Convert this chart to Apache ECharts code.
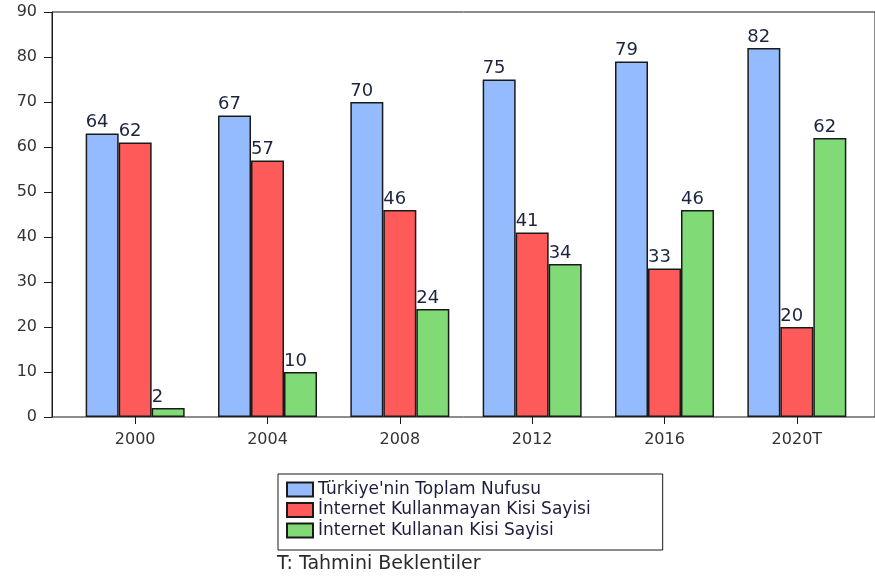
<!DOCTYPE html>
<html>
<head>
<meta charset="utf-8">
<script src="https://cdn.jsdelivr.net/npm/echarts@6/dist/echarts.min.js"></script>
<style>
  html, body { margin: 0; padding: 0; background: #fff; }
  #chart { width: 875px; height: 579px; }
</style>
</head>
<body>
<div id="chart"></div>
<script>
// kategoriler (yillar)
const categories = ['2000', '2004', '2008', '2012', '2016', '2020T']

// cubuk yukseklikleri
const toplamNufus = [63, 67, 70, 75, 79, 82]
const kullanmayan = [61, 57, 46, 41, 33, 20]
const kullanan = [2, 10, 24, 34, 46, 62]

// cubuklarin ustundeki etiketler
const toplamNufusLabels = [64, 67, 70, 75, 79, 82]
const kullanmayanLabels = [62, 57, 46, 41, 33, 20]
const kullananLabels = [2, 10, 24, 34, 46, 62]

const seriesNames = [
  "Türkiye'nin Toplam Nufusu",
  'İnternet Kullanmayan Kisi Sayisi',
  'İnternet Kullanan Kisi Sayisi'
]

const yTicks = { min: 0, max: 90, interval: 10 }

const fontFamily = 'DejaVu Sans'

function barSeries (name, values, labels, color) {
  return {
    name: name,
    type: 'bar',
    xAxisIndex: 1,
    yAxisIndex: 1,
    data: values,
    barWidth: 33,
    barGap: '0%',
    itemStyle: {
      color: color,
      borderColor: '#1a1a1a',
      borderWidth: 1.5
    },
    label: {
      show: true,
      position: [0, -2],
      align: 'left',
      verticalAlign: 'bottom',
      fontFamily: fontFamily,
      fontSize: 18,
      color: '#1c2440',
      formatter: (p) => String(labels[p.dataIndex])
    }
  }
}

const option = {
  animation: false,
  backgroundColor: '#fff',
  textStyle: { fontFamily: fontFamily },
  title: {
    text: 'T: Tahmini Beklentiler',
    left: 277,
    top: 555,
    padding: 0,
    textStyle: {
      fontFamily: fontFamily,
      fontSize: 19,
      fontWeight: 'normal',
      color: '#2a2a2a'
    }
  },
  legend: {
    orient: 'vertical',
    left: 278,
    top: 474,
    padding: [7, 72, 11, 8],
    itemGap: 3.5,
    itemWidth: 26,
    itemHeight: 14,
    icon: 'rect',
    borderColor: '#1a1a1a',
    borderWidth: 1,
    textStyle: {
      fontFamily: fontFamily,
      fontSize: 17,
      lineHeight: 17,
      color: '#1c1c3c'
    },
    data: seriesNames
  },
  grid: [
    // cerceve + y ekseni
    { left: 52, right: -4, top: 12, bottom: 162, show: true, borderColor: '#1a1a1a', borderWidth: 1 },
    // cubuklar
    { left: 69, right: 12, top: 12, bottom: 162 }
  ],
  xAxis: [
    {
      type: 'category',
      gridIndex: 0,
      data: categories,
      show: false
    },
    {
      type: 'category',
      gridIndex: 1,
      data: categories,
      axisLine: { show: false },
      axisTick: { show: true, alignWithLabel: true, length: 7, lineStyle: { color: '#1a1a1a' } },
      axisLabel: { fontFamily: fontFamily, fontSize: 16, color: '#333', margin: 15 }
    }
  ],
  yAxis: [
    {
      type: 'value',
      gridIndex: 0,
      min: yTicks.min,
      max: yTicks.max,
      interval: yTicks.interval,
      splitLine: { show: false },
      axisLine: { show: true, lineStyle: { color: '#1a1a1a' } },
      axisTick: { show: true, length: 8, lineStyle: { color: '#1a1a1a' } },
      axisLabel: { fontFamily: fontFamily, fontSize: 16, color: '#333', margin: 15 }
    },
    {
      type: 'value',
      gridIndex: 1,
      min: yTicks.min,
      max: yTicks.max,
      interval: yTicks.interval,
      show: false
    }
  ],
  series: [
    barSeries(seriesNames[0], toplamNufus, toplamNufusLabels, '#95bbff'),
    barSeries(seriesNames[1], kullanmayan, kullanmayanLabels, '#ff5a5a'),
    barSeries(seriesNames[2], kullanan, kullananLabels, '#80da76')
  ]
}

const myChart = echarts.init(document.getElementById('chart'))
myChart.setOption(option)
</script>
</body>
</html>
